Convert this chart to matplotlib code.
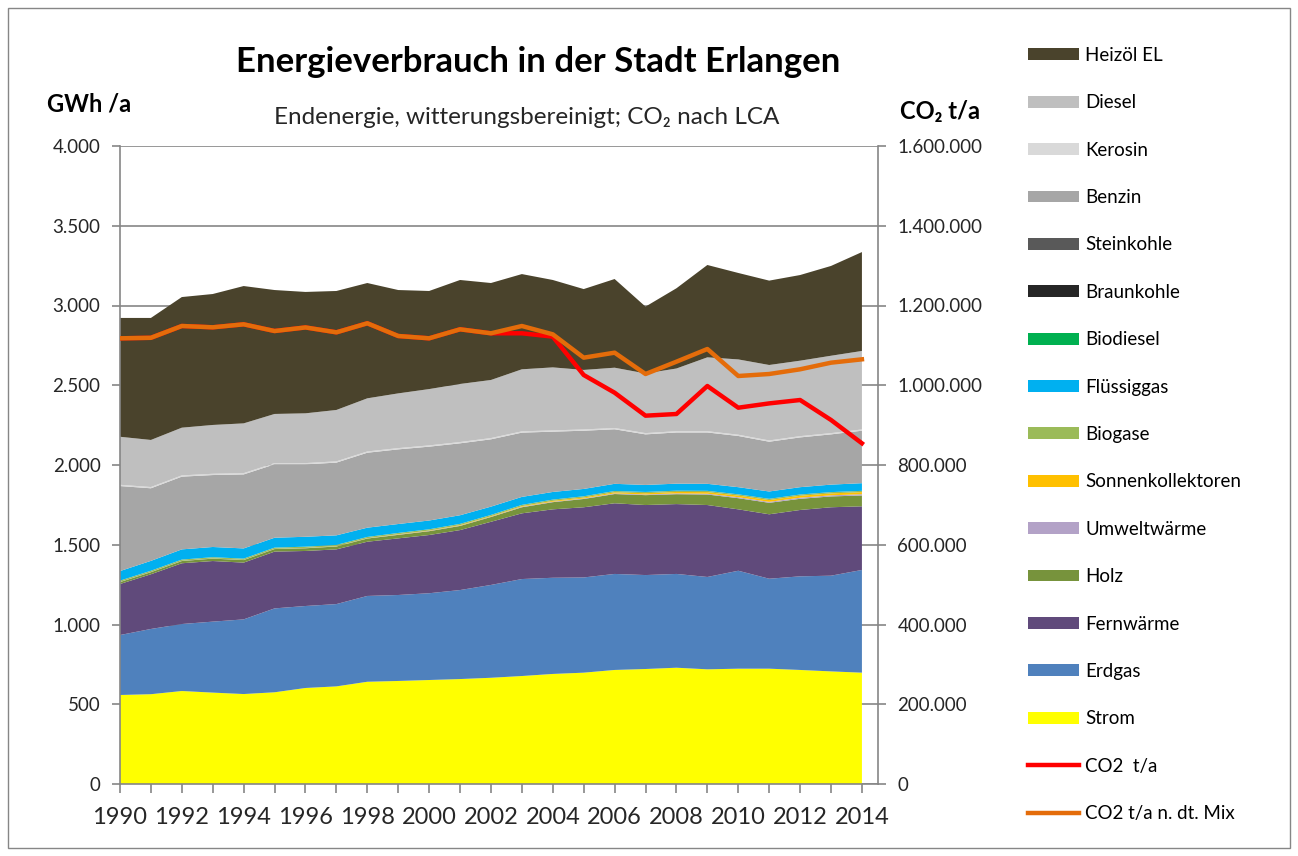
import matplotlib.pyplot as plt
from matplotlib.ticker import MultipleLocator, FuncFormatter
from matplotlib.patches import Rectangle

plt.rcParams['font.family'] = ['Lato', 'DejaVu Sans']

years = list(range(1990, 2015))

# GWh/a je Energieträger (von unten nach oben gestapelt)
strom = [558, 563, 583, 573, 564, 575, 602, 612, 641, 646, 652, 658, 666,
         677, 690, 698, 715, 721, 729, 719, 723, 723, 715, 706, 698]
erdgas = [376, 409, 420, 445, 468, 526, 514, 516, 538, 539, 544, 558, 582,
          608, 603, 597, 602, 589, 588, 579, 614, 564, 587, 600, 644]
fernwaerme = [320, 343, 381, 380, 356, 356, 345, 343, 340, 355, 365, 376, 396,
              412, 429, 440, 443, 439, 438, 451, 385, 404, 416, 429, 399]
holz = [12, 13, 14, 15, 16, 16, 17, 18, 20, 22, 24, 26, 30,
        38, 45, 52, 58, 62, 62, 66, 70, 72, 70, 68, 68]
umweltwaerme = [1, 1, 1, 1, 1, 1, 1, 1, 1, 2, 2, 2, 2,
                3, 3, 3, 4, 4, 5, 5, 6, 6, 7, 7, 8]
sonnenkollektoren = [0, 0, 0, 0, 0, 0, 1, 1, 1, 2, 2, 3, 3,
                     4, 5, 6, 7, 8, 9, 10, 10, 11, 12, 12, 13]
biogase = [8, 8, 8, 8, 8, 8, 8, 8, 8, 8, 8, 8, 8,
           8, 8, 8, 8, 8, 8, 8, 8, 8, 8, 8, 8]
fluessiggas = [60, 62, 64, 64, 64, 62, 62, 60, 58, 56, 55, 54, 52,
               50, 48, 46, 45, 44, 44, 44, 45, 46, 46, 47, 48]
biodiesel = [0] * 25
braunkohle = [0] * 25
steinkohle = [0] * 25
benzin = [533, 455, 456, 451, 464, 460, 454, 456, 470, 468, 463, 451, 422,
          403, 378, 365, 342, 317, 321, 322, 321, 312, 312, 315, 329]
kerosin = [8] * 25
diesel = [301, 295, 299, 306, 312, 308, 312, 322, 333, 343, 353, 364, 364,
          389, 395, 373, 378, 374, 393, 463, 472, 473, 473, 485, 492]
heizoel = [745, 765, 819, 821, 861, 777, 761, 746, 723, 648, 615, 652, 608,
           597, 548, 507, 556, 419, 503, 579, 542, 529, 537, 563, 620]

# CO2 t/a
co2 = [1117700, 1119000, 1148600, 1145300, 1152800, 1136000, 1145000, 1132700,
       1155400, 1123500, 1117700, 1140300, 1130300, 1130300, 1121900, 1025700,
       981300, 923700, 927900, 998100, 943700, 954500, 963000, 912900, 854400]
co2_mix = [1117700, 1119000, 1148600, 1145300, 1152800, 1136000, 1145000, 1132700,
           1155400, 1123500, 1117700, 1140300, 1130300, 1148600, 1127700, 1069200,
           1081700, 1028200, 1059100, 1090900, 1023200, 1028200, 1040000, 1056600, 1065000]

labels = ['Strom', 'Erdgas', 'Fernwärme', 'Holz', 'Umweltwärme', 'Sonnenkollektoren',
          'Biogase', 'Flüssiggas', 'Biodiesel', 'Braunkohle', 'Steinkohle',
          'Benzin', 'Kerosin', 'Diesel', 'Heizöl EL']
series = [strom, erdgas, fernwaerme, holz, umweltwaerme, sonnenkollektoren,
          biogase, fluessiggas, biodiesel, braunkohle, steinkohle,
          benzin, kerosin, diesel, heizoel]
colors = ['#FFFF00', '#4F81BD', '#604A7B', '#77933C', '#B3A2C7', '#FFC000',
          '#9BBB59', '#00B0F0', '#00B050', '#262626', '#595959',
          '#A6A6A6', '#D9D9D9', '#BFBFBF', '#4A432C']

W, H = 1298, 856
fig = plt.figure(figsize=(W / 100, H / 100), dpi=100)
ax = fig.add_axes([120 / W, 1 - 784 / H, (878 - 120) / W, (784 - 146) / H])

polys = ax.stackplot(years, series, labels=labels, colors=colors, linewidth=0)

grid_c = '#868686'
ax.set_xlim(1990, 2014.52)
ax.set_ylim(0, 4000)
ax.yaxis.set_major_locator(MultipleLocator(500))
ax.xaxis.set_major_locator(MultipleLocator(2))
ax.xaxis.set_minor_locator(MultipleLocator(1))
ax.grid(axis='y', color=grid_c, linewidth=1.2)
ax.set_axisbelow(True)

de = FuncFormatter(lambda v, p: f'{int(v):,}'.replace(',', '.'))
ax.yaxis.set_major_formatter(de)

for s in ['top', 'right']:
    ax.spines[s].set_visible(False)
for s in ['left', 'bottom']:
    ax.spines[s].set_color(grid_c)
    ax.spines[s].set_linewidth(1.2)
ax.tick_params(axis='y', colors=grid_c, labelcolor='#262626', labelsize=13.5,
               length=6, width=1.2, pad=8)
ax.tick_params(axis='x', which='both', colors=grid_c, labelcolor='#262626',
               labelsize=17, length=6.5, width=1.2, pad=10)

ax2 = ax.twinx()
ax2.set_ylim(0, 1600000)
ax2.yaxis.set_major_locator(MultipleLocator(200000))
ax2.yaxis.set_major_formatter(de)
l1, = ax2.plot(years, co2, color='#FF0000', linewidth=3.2, label='CO2  t/a',
               solid_joinstyle='round')
l2, = ax2.plot(years, co2_mix, color='#E46C0A', linewidth=3.2,
               label='CO2 t/a n. dt. Mix', solid_joinstyle='round')
for s in ['top', 'left', 'bottom']:
    ax2.spines[s].set_visible(False)
ax2.spines['right'].set_color(grid_c)
ax2.spines['right'].set_linewidth(1.2)
ax2.tick_params(axis='y', colors=grid_c, labelcolor='#262626', labelsize=13.5,
                length=6, width=1.2, pad=8)

fig.text(538 / W, 1 - 62 / H, 'Energieverbrauch in der Stadt Erlangen',
         ha='center', va='center', fontsize=25, fontweight='bold', color='#000000')
fig.text(527 / W, 1 - 118 / H, 'Endenergie, witterungsbereinigt; CO₂ nach LCA',
         ha='center', va='center', fontsize=17.5, color='#262626')
fig.text(47 / W, 1 - 104 / H, 'GWh /a', ha='left', va='center',
         fontsize=17, fontweight='bold', color='#000000')
fig.text(900 / W, 1 - 112 / H, 'CO₂ t/a', ha='left', va='center',
         fontsize=17, fontweight='bold', color='#000000')

handles = list(polys[::-1]) + [l1, l2]
leg_labels = labels[::-1] + ['CO2  t/a', 'CO2 t/a n. dt. Mix']
fig.legend(handles, leg_labels, loc='upper left',
           bbox_to_anchor=(1028 / W, 1 - 47 / H), frameon=False,
           fontsize=13.5, handlelength=2.7, handleheight=0.6,
           handletextpad=0.35, labelspacing=1.62, borderaxespad=0, borderpad=0)

fig.add_artist(Rectangle((8 / W, 8 / H), 1282 / W, 840 / H, transform=fig.transFigure,
                         fill=False, edgecolor='#868686', linewidth=1))

fig.savefig('out.png', dpi=100)
